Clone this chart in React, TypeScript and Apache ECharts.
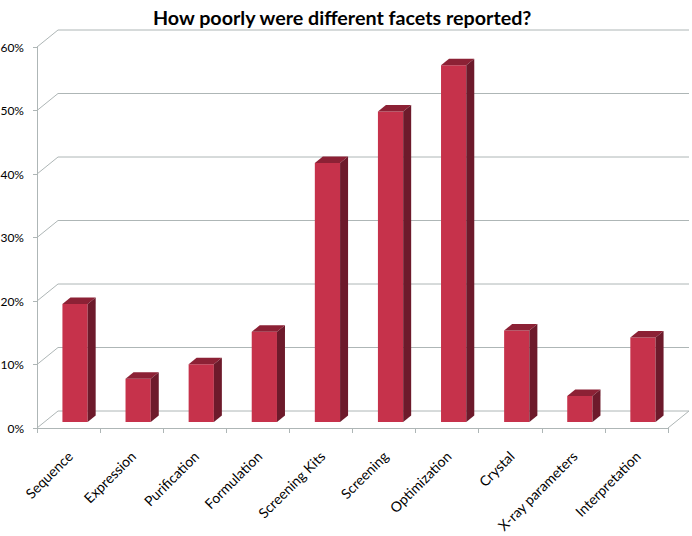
import React, { useEffect, useRef } from "react";
import * as echarts from "echarts";

const categories = [
  "Sequence",
  "Expression",
  "Purification",
  "Formulation",
  "Screening Kits",
  "Screening",
  "Optimization",
  "Crystal",
  "X-ray parameters",
  "Interpretation",
];
const values = [0.186, 0.068, 0.091, 0.142, 0.408, 0.489, 0.562, 0.144, 0.041, 0.133];
const yTicks = [0, 0.1, 0.2, 0.3, 0.4, 0.5, 0.6];

const FONT = "Lato, 'Open Sans', sans-serif";
const GRID_COLOR = "#aeb6b6";
const DEPTH_X = 21;
const DEPTH_Y = -17;

export default function App() {
  const ref = useRef<HTMLDivElement>(null);
  useEffect(() => {
    if (!ref.current) return;
    const chart = echarts.init(ref.current, undefined, { renderer: "svg" });
    const n = categories.length;
    chart.setOption({
      animation: false,
      backgroundColor: "#ffffff",
      title: {
        text: "How poorly were different facets reported?",
        left: 148,
        top: 2,
        textStyle: { fontFamily: FONT, fontSize: 19.7, fontWeight: "bold", color: "#000" },
      },
      grid: { left: 37, right: 24, top: 47, bottom: 108, containLabel: false, outerBoundsMode: "none" },
      xAxis: {
        type: "category",
        data: categories,
        boundaryGap: true,
        axisLine: { show: true, lineStyle: { color: GRID_COLOR, width: 1 } },
        axisTick: { show: true, alignWithLabel: false, length: 5, lineStyle: { color: GRID_COLOR } },
        axisLabel: {
          rotate: 45,
          margin: 27,
          interval: 0,
          padding: [0, -2, 0, 0],
          fontFamily: FONT,
          fontSize: 14,
          color: "#000",
        },
        splitLine: { show: false },
      },
      yAxis: {
        type: "value",
        min: 0,
        max: 0.6,
        interval: 0.1,
        axisLine: { show: true, lineStyle: { color: GRID_COLOR, width: 1 } },
        axisTick: { show: true, length: 4, lineStyle: { color: GRID_COLOR } },
        axisLabel: {
          margin: 13,
          fontFamily: FONT,
          fontSize: 12,
          color: "#000",
          formatter: (v: number) => Math.round(v * 100) + "%",
        },
        splitLine: { show: false },
      },
      series: [
        {
          type: "custom",
          z: 1,
          silent: true,
          data: yTicks.map((v) => [0, v]),
          renderItem: (params: any, api: any) => {
            const v = api.value(1);
            const p0 = api.coord([0, v]);
            const p1 = api.coord([n - 1, v]);
            const cw = api.size([1, 0])[0];
            const left = p0[0] - cw / 2;
            const right = p1[0] + cw / 2;
            const y = p0[1];
            const children: any[] = [
              {
                type: "polyline",
                shape: {
                  points: [
                    [left, y],
                    [left + DEPTH_X, y + DEPTH_Y],
                    [right + DEPTH_X, y + DEPTH_Y],
                  ],
                },
                style: { stroke: GRID_COLOR, lineWidth: 1, fill: null },
              },
            ];
            if (v === 0) {
              children.push({
                type: "line",
                shape: { x1: right, y1: y, x2: right + DEPTH_X, y2: y + DEPTH_Y },
                style: { stroke: GRID_COLOR, lineWidth: 1 },
              });
            }
            return { type: "group", children };
          },
        },
        {
          type: "custom",
          z: 2,
          data: values.map((v, i) => [i, v]),
          renderItem: (params: any, api: any) => {
            const i = api.value(0);
            const v = api.value(1);
            const base = api.coord([i, 0]);
            const top = api.coord([i, v]);
            const cw = api.size([1, 0])[0];
            const w = cw * 0.4;
            const shiftX = 6.5;
            const shiftY = -6;
            const dx = 8;
            const dy = -6.5;
            const x0 = base[0] + shiftX - w / 2;
            const x1 = x0 + w;
            const yb = base[1] + shiftY;
            const yt = top[1] + shiftY;
            return {
              type: "group",
              children: [
                {
                  type: "polygon",
                  shape: { points: [[x0, yb], [x1, yb], [x1, yt], [x0, yt]] },
                  style: { fill: "#c6324b" },
                },
                {
                  type: "polygon",
                  shape: { points: [[x0, yt], [x1, yt], [x1 + dx, yt + dy], [x0 + dx, yt + dy]] },
                  style: { fill: "#8c2135" },
                },
                {
                  type: "polygon",
                  shape: { points: [[x1, yt], [x1 + dx, yt + dy], [x1 + dx, yb + dy], [x1, yb]] },
                  style: { fill: "#6d1a2b" },
                },
              ],
            };
          },
        },
      ],
    });
    return () => chart.dispose();
  }, []);
  return (
    <div
      ref={ref}
      style={{ position: "fixed", left: 0, top: 0, width: 692, height: 536, background: "#fff" }}
    />
  );
}
